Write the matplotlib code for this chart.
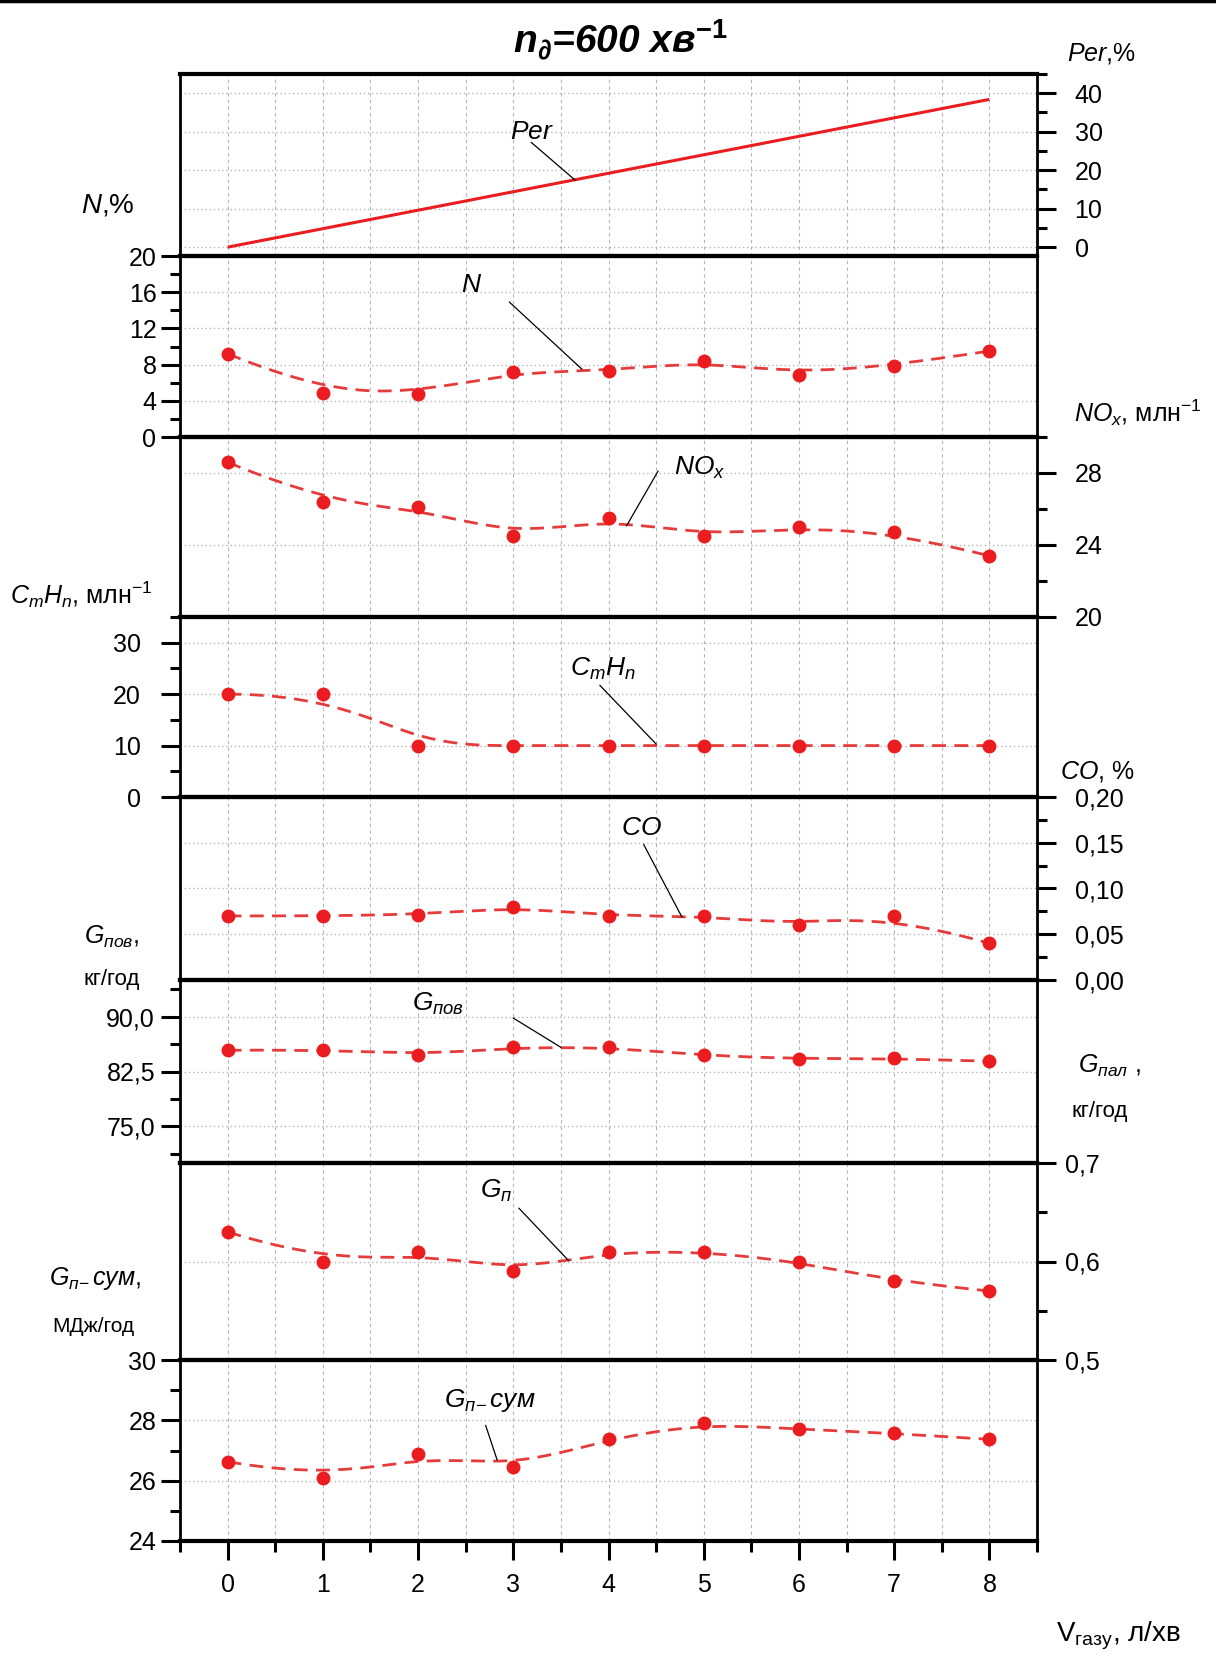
import numpy as np
import matplotlib
matplotlib.use("Agg")
import matplotlib.pyplot as plt
from matplotlib.ticker import FixedLocator, FixedFormatter
from matplotlib.lines import Line2D

plt.rcParams['font.family'] = ['Liberation Sans', 'DejaVu Sans']
plt.rcParams['mathtext.fontset'] = 'custom'
plt.rcParams['mathtext.rm'] = 'Liberation Sans'
plt.rcParams['mathtext.it'] = 'Liberation Sans:italic'
plt.rcParams['mathtext.bf'] = 'Liberation Sans:bold'
plt.rcParams['mathtext.bfit'] = 'Liberation Sans:italic:bold'
plt.rcParams['mathtext.sf'] = 'Liberation Sans'

# ---------------- data ----------------
v_gas = [0, 1, 2, 3, 4, 5, 6, 7, 8]
per = [0.0, 4.8, 9.6, 14.4, 19.2, 24.0, 28.8, 33.6, 38.4]
n_pct = [9.2, 4.9, 4.8, 7.2, 7.3, 8.4, 6.9, 7.9, 9.5]
nox = [28.6, 26.4, 26.1, 24.5, 25.5, 24.5, 25.0, 24.7, 23.4]
cmhn = [20, 20, 10, 10, 10, 10, 10, 10, 10]
co = [0.070, 0.070, 0.071, 0.080, 0.070, 0.070, 0.060, 0.070, 0.040]
g_pov = [85.4, 85.5, 84.7, 85.8, 85.8, 84.7, 84.2, 84.3, 83.9]
g_pal = [0.630, 0.600, 0.610, 0.590, 0.610, 0.610, 0.600, 0.580, 0.570]
g_sum = [26.63, 26.08, 26.89, 26.44, 27.39, 27.90, 27.70, 27.57, 27.37]

x_ticks = [0, 1, 2, 3, 4, 5, 6, 7, 8]
x_ticklabels = ['0', '1', '2', '3', '4', '5', '6', '7', '8']

per_ticks = [0, 10, 20, 30, 40]
per_labels = ['0', '10', '20', '30', '40']
n_ticks = [0, 4, 8, 12, 16, 20]
n_labels = ['0', '4', '8', '12', '16', '20']
nox_ticks = [20, 24, 28]
nox_labels = ['20', '24', '28']
cmhn_ticks = [0, 10, 20, 30]
cmhn_labels = ['0', '10', '20', '30']
co_ticks = [0.0, 0.05, 0.10, 0.15, 0.20]
co_labels = ['0,00', '0,05', '0,10', '0,15', '0,20']
gpov_ticks = [75.0, 82.5, 90.0]
gpov_labels = ['75,0', '82,5', '90,0']
gpal_ticks = [0.5, 0.6, 0.7]
gpal_labels = ['0,5', '0,6', '0,7']
gsum_ticks = [24, 26, 28, 30]
gsum_labels = ['24', '26', '28', '30']

# ---------------- helpers ----------------
W, H = 1216, 1660
RED = '#ea1c1f'
LRED = '#e63b3b'
TICKSIZE = 18


def bspline(px, py, k=3, num=400):
    px = np.asarray(px, float)
    py = np.asarray(py, float)
    n = len(px)
    m = n - k
    knots = np.concatenate([np.zeros(k), np.arange(m + 1), np.full(k, m)]).astype(float)
    t = np.linspace(0, m, num)
    t[-1] = m - 1e-9
    B = np.zeros((num, len(knots) - 1))
    for i in range(len(knots) - 1):
        B[:, i] = (t >= knots[i]) & (t < knots[i + 1])
    for d in range(1, k + 1):
        Bn = np.zeros((num, len(knots) - 1 - d))
        for i in range(len(knots) - 1 - d):
            den1 = knots[i + d] - knots[i]
            den2 = knots[i + d + 1] - knots[i + 1]
            a = (t - knots[i]) / den1 * B[:, i] if den1 > 0 else 0.0
            b = (knots[i + d + 1] - t) / den2 * B[:, i + 1] if den2 > 0 else 0.0
            Bn[:, i] = a + b
        B = Bn
    return B @ px, B @ py


fig = plt.figure(figsize=(W / 100, H / 100), dpi=100)

left_px, right_px = 180, 1037
bounds = [(74, 256), (256, 437), (437, 617), (617, 797), (797, 980),
          (980, 1163), (1163, 1360), (1360, 1541)]

axes = []
for (t, b) in bounds:
    ax = fig.add_axes([left_px / W, 1 - b / H, (right_px - left_px) / W, (b - t) / H])
    axes.append(ax)

panels = [
    # (values, side, ylim, major, labels, minor, pad, kind)
    (per, 'right', (-2.3, 45), per_ticks, per_labels, [5, 15, 25, 35, 45], 13, 'solid'),
    (n_pct, 'left', (0, 20), n_ticks, n_labels, [2, 6, 10, 14, 18], 3, 'dash'),
    (nox, 'right', (20, 30), nox_ticks, nox_labels, [22, 26, 30], 13, 'dash'),
    (cmhn, 'left', (0, 35), cmhn_ticks, cmhn_labels, [5, 15, 25, 35], 14, 'dash'),
    (co, 'right', (0, 0.2), co_ticks, co_labels, [0.025, 0.075, 0.125, 0.175], 13, 'dash'),
    (g_pov, 'left', (70, 95), gpov_ticks, gpov_labels, [71.25, 78.75, 86.25, 93.75], 4, 'dash'),
    (g_pal, 'right', (0.5, 0.7), gpal_ticks, gpal_labels, [0.55, 0.65], 6, 'dash'),
    (g_sum, 'left', (24, 30), gsum_ticks, gsum_labels, [25, 27, 29], 3, 'dash'),
]

for i, (ax, p) in enumerate(zip(axes, panels)):
    vals, side, ylim, major, labels, minor, pad, kind = p
    ax.set_xlim(-0.5, 8.5)
    ax.set_ylim(*ylim)
    ax.patch.set_alpha(0)
    ax.xaxis.set_major_locator(FixedLocator(x_ticks))
    ax.xaxis.set_minor_locator(FixedLocator([v + 0.5 for v in x_ticks] + [-0.5]))
    ax.yaxis.set_major_locator(FixedLocator(major))
    ax.yaxis.set_major_formatter(FixedFormatter(labels))
    ax.yaxis.set_minor_locator(FixedLocator(minor))
    ax.grid(axis='x', which='both', color='#b5b5b5', ls=(0, (3, 3)), lw=0.8)
    ax.grid(axis='y', which='major', color='#b5b5b5', ls=(0, (1, 2)), lw=1.0)
    for s in ('top', 'bottom'):
        ax.spines[s].set_linewidth(3.0)
    for s in ('left', 'right'):
        ax.spines[s].set_linewidth(2.0)
    ax.tick_params(axis='y', which='major', direction='out', length=14, width=2.2,
                   labelsize=TICKSIZE, pad=pad)
    ax.tick_params(axis='y', which='minor', direction='out', length=7, width=2.2)
    if side == 'right':
        ax.tick_params(axis='y', which='both', left=False, labelleft=False,
                       right=True, labelright=True)
    else:
        ax.tick_params(axis='y', which='both', left=True, labelleft=True,
                       right=False, labelright=False)
    if i < 7:
        ax.tick_params(axis='x', which='both', bottom=False, labelbottom=False,
                       top=False)
    else:
        ax.tick_params(axis='x', which='major', direction='out', length=14, width=2.2,
                       labelsize=TICKSIZE, pad=9)
        ax.tick_params(axis='x', which='minor', direction='out', length=8, width=2.2)
        ax.set_xticklabels(x_ticklabels)

    if kind == 'solid':
        ax.plot(v_gas, vals, color=RED, lw=2.2, solid_capstyle='butt')
    else:
        sx, sy = bspline(v_gas, vals)
        ax.plot(sx, sy, color=LRED, lw=2.0, ls=(0, (5, 3)))
        ax.plot(v_gas, vals, 'o', color=RED, ms=9, mec=RED)

# ---------------- annotations ----------------
ann = [
    (0, r'$Per$', (3.2, 29.8), 'center', ((3.19, 27.2), (3.65, 17.4))),
    (1, r'$N$', (2.56, 16.8), 'center', ((2.96, 14.9), (3.72, 7.5))),
    (2, r'$NO_{x}$', (4.69, 28.3), 'left', ((4.52, 28.1), (4.19, 25.07))),
    (3, r'$C_{m}H_{n}$', (3.6, 25.0), 'left', ((3.91, 21.7), (4.50, 10.3))),
    (4, r'$CO$', (4.35, 0.166), 'center', ((4.37, 0.148), (4.77, 0.069))),
    (5, r'$G_{\mathit{пов}}$', (1.94, 91.7), 'left', ((3.0, 89.8), (3.5, 85.8))),
    (6, r'$G_{\mathit{п}}$', (2.65, 0.672), 'left', ((3.06, 0.654), (3.58, 0.601))),
    (7, r'$G_{\mathit{п}\!-}\mathit{сум}$', (2.27, 28.67), 'left', ((2.71, 27.83), (2.83, 26.69))),
]
for idx, txt, pos, ha, line in ann:
    ax = axes[idx]
    ax.text(pos[0], pos[1], txt, fontsize=19, ha=ha, va='center')
    ax.plot([line[0][0], line[1][0]], [line[0][1], line[1][1]], color='black', lw=0.9)


def ftext(xp, yp, s, ha='center', size=16, **kw):
    fig.text(xp / W, 1 - yp / H, s, ha=ha, va='center', fontsize=size, **kw)


# title
ftext(620, 40, r'$\mathbfit{n}_{\mathbfit{∂}}$=600 хв$^{\mathbf{-1}}$', size=28,
      fontweight='bold', style='italic')

# axis labels
ftext(108, 205, r'$N$,%', size=20)
ftext(1102, 54, r'$Per$,%', size=18)
ftext(1074, 413, r'$NO_{x}$, млн$^{-1}$', ha='left', size=18)
ftext(10, 595, r'$C_{m}H_{n}$, млн$^{-1}$', ha='left', size=18)
ftext(1060, 771, r'$CO$, %', ha='left', size=18)
ftext(112, 937, r'$G_{\mathit{пов}}$,', size=18)
ftext(112, 979, 'кг/год', size=16)
ftext(1110, 1066, r'$G_{\mathit{пал}}$ ,', size=18)
ftext(1100, 1111, 'кг/год', size=16)
ftext(95, 1279, r'$G_{\mathit{п}\!-}\mathit{сум}$,', size=18)
ftext(93, 1326, 'МДж/год', size=15)
ftext(1056, 1636, r'V$_{\mathrm{газу}}$, л/хв', ha='left', size=20)

# top frame line of the page
fig.add_artist(Line2D([0, 1], [0.9992, 0.9992], transform=fig.transFigure,
                      color='black', lw=2.5))

fig.savefig('out.png', dpi=100)
